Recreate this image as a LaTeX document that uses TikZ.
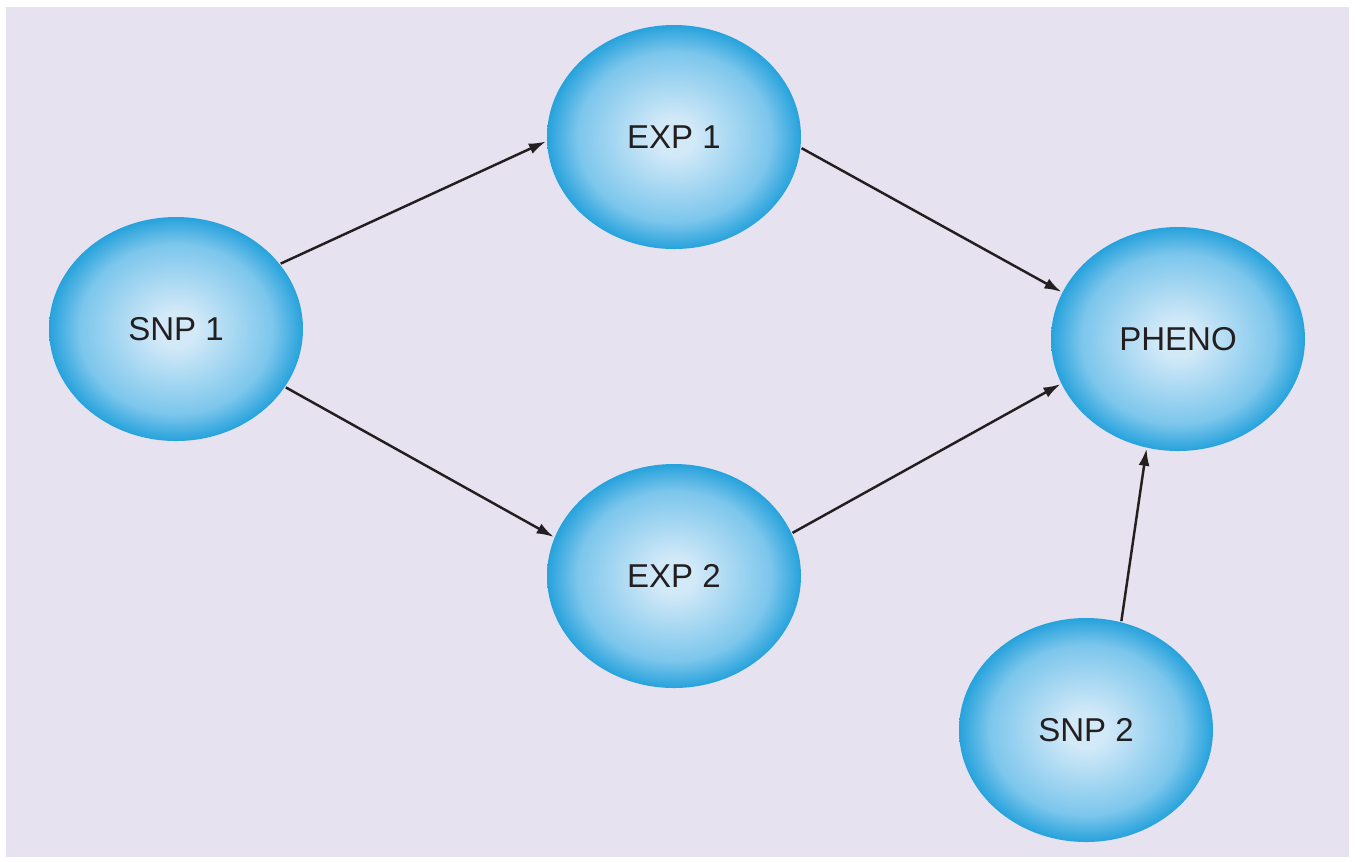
\documentclass[tikz,border=0pt]{standalone}
\usepackage{fontspec}
\setmainfont{Liberation Sans}
\usetikzlibrary{shapes.geometric,arrows.meta,positioning}

\definecolor{bgcol}{HTML}{E6E2EF}
\definecolor{blobin}{HTML}{D2E9F8}
\definecolor{blobmid}{HTML}{7CC6EC}
\definecolor{blobout}{HTML}{26A2DC}
\definecolor{inkcol}{HTML}{231F20}
\pgfdeclareradialshading{blob}{\pgfpoint{0bp}{0bp}}{color(0bp)=(blobin); color(4bp)=(blobin); color(19bp)=(blobmid); color(25bp)=(blobout); color(50bp)=(blobout)}

\begin{document}
\begin{tikzpicture}[node distance = 4cm, auto, on grid, line width=1.4pt]
  \tikzstyle{blob} = [ellipse, shading=blob, inner sep=0pt,
    minimum width=5.08cm, minimum height=4.48cm, text=inkcol,
    font=\fontsize{18.8}{22}\selectfont]
  \tikzstyle{line} = [draw, inkcol, -{Latex[length=0.34cm, width=0.22cm]}]

  % Background
  \useasboundingbox (0,0) rectangle (27.1,-17.22);
  \fill [bgcol] (0.12,-0.14) rectangle (26.98,-17.14);

  % Place nodes
  \node [blob] (snp1) at (3.52,-6.58) {SNP 1};
  \node [blob, above right=3.84cm and 9.96cm of snp1] (exp1) {EXP 1};
  \node [blob, below right=4.94cm and 9.96cm of snp1] (exp2) {EXP 2};
  \node [blob, below right=4.04cm and 10.08cm of exp1] (pheno) {PHENO};
  \node [blob, below left=7.82cm and 1.84cm of pheno] (snp2) {SNP 2};

  % Draw edges
  \path [line] (snp1.32) -- (exp1.182);
  \path [line] (snp1.-28) -- (exp2.162);
  \path [line] (exp1.-5) -- (pheno.158);
  \path [line] (exp2.20) -- (pheno.201);
  \path [line] (snp2.72) -- (pheno.254);

\end{tikzpicture}
\end{document}
